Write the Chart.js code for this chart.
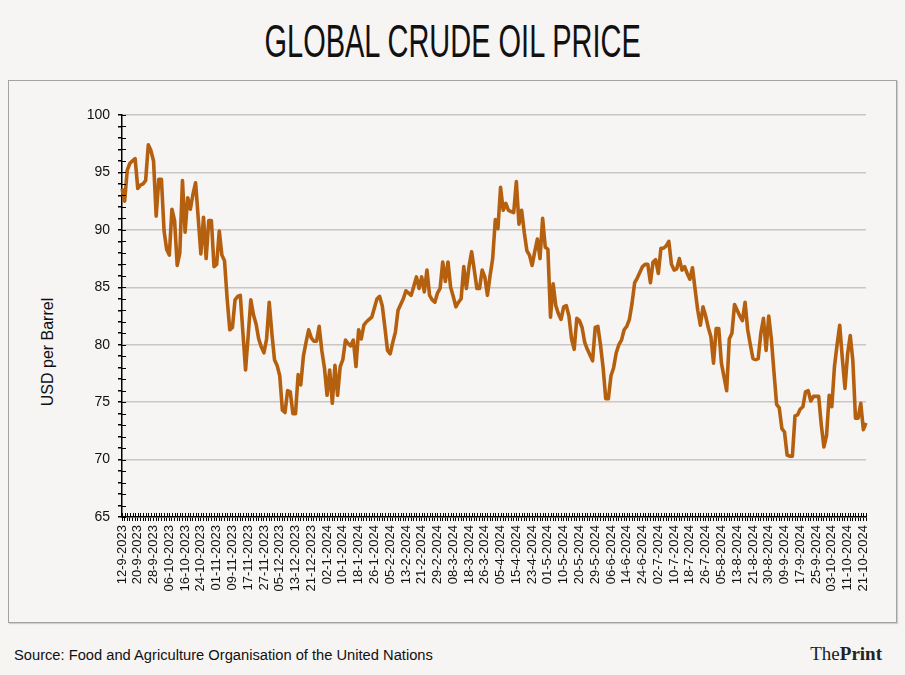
<!DOCTYPE html>
<html>
<head>
<meta charset="utf-8">
<script src="https://cdn.jsdelivr.net/npm/chart.js@4.4.1/dist/chart.umd.min.js"></script>
<style>
  body { margin: 0; background: #f7f4f4; }
  #wrap { position: relative; width: 905px; height: 675px; overflow: hidden; }
  #frame { position: absolute; left: 8px; top: 80px; width: 887px; height: 541px; border: 1px solid #a3a3a3; box-shadow: 1px 1px 1px #cfcfcf; }
  #title { position: absolute; left: 0; top: 14px; width: 905px; text-align: center; font-family: "Liberation Sans", Arial, sans-serif; font-size: 46px; color: #111; }
  #title span { display: inline-block; transform: scaleX(0.63); }
  #ylab { position: absolute; left: 48px; top: 352px; transform: translate(-50%, -50%) rotate(-90deg); white-space: nowrap; font-family: "Liberation Sans", Arial, sans-serif; font-size: 16px; color: #111; }
  #source { position: absolute; left: 14px; top: 647px; font-family: "Liberation Sans", Arial, sans-serif; font-size: 14.7px; color: #111; white-space: nowrap; }
  #logo { position: absolute; right: 23px; top: 643px; font-family: "Liberation Serif", "DejaVu Serif", serif; font-size: 19px; color: #222; }
  canvas { position: absolute; left: 0; top: 0; }
</style>
</head>
<body>
<div id="wrap">
  <div id="frame"></div>
  <div id="title"><span>GLOBAL CRUDE OIL PRICE</span></div>
  <div id="ylab">USD per Barrel</div>
  <div id="source">Source: Food and Agriculture Organisation of the United Nations</div>
  <div id="logo">The<b>Print</b></div>
  <canvas id="oilChart" width="905" height="675"></canvas>
</div>
<script>
// labels shown on the x axis, one every 6 trading days
var tickLabels = ['12-9-2023','20-9-2023','28-9-2023','06-10-2023','16-10-2023','24-10-2023','01-11-2023','09-11-2023',
  '17-11-2023','27-11-2023','05-12-2023','13-12-2023','21-12-2023','02-1-2024','10-1-2024','18-1-2024','26-1-2024',
  '05-2-2024','13-2-2024','21-2-2024','29-2-2024','08-3-2024','18-3-2024','26-3-2024','05-4-2024','15-4-2024',
  '23-4-2024','01-5-2024','10-5-2024','20-5-2024','29-5-2024','06-6-2024','14-6-2024','24-6-2024','02-7-2024',
  '10-7-2024','18-7-2024','26-7-2024','05-8-2024','13-8-2024','21-8-2024','30-8-2024','09-9-2024','17-9-2024',
  '25-9-2024','03-10-2024','11-10-2024','21-10-2024'];

// daily crude price, USD per barrel
var prices = [
  93.6, 92.5, 95.2, 95.8, 96.0, 96.2, 93.6, 93.9, 94.0, 94.3, 97.4, 96.9,
  96.0, 91.2, 94.4, 94.4, 89.9, 88.3, 87.8, 91.8, 90.8, 86.9, 88.0, 94.3,
  89.8, 92.8, 91.8, 93.1, 94.1, 91.0, 87.9, 91.1, 87.5, 90.8, 90.8, 86.8,
  87.0, 89.9, 87.8, 87.3, 84.0, 81.3, 81.5, 83.9, 84.2, 84.3, 81.0, 77.8,
  80.8, 83.9, 82.6, 81.8, 80.5, 79.8, 79.3, 80.5, 83.7, 81.0, 78.7, 78.2,
  77.3, 74.3, 74.1, 76.0, 75.9, 74.0, 74.0, 77.4, 76.5, 79.0, 80.2, 81.3,
  80.6, 80.3, 80.3, 81.6, 79.5, 78.0, 75.6, 77.8, 74.9, 78.2, 75.6, 78.1,
  78.7, 80.4, 80.1, 79.9, 80.4, 78.1, 81.3, 80.5, 81.7, 82.0, 82.2, 82.4,
  83.2, 84.0, 84.2, 83.4, 81.5, 79.5, 79.2, 80.2, 81.1, 83.0, 83.5, 84.0,
  84.7, 84.5, 84.3, 85.1, 85.9, 84.9, 85.9, 84.6, 86.5, 84.3, 83.9, 83.7,
  84.5, 84.9, 87.2, 85.5, 87.2, 85.0, 84.2, 83.3, 83.7, 84.0, 86.8, 84.9,
  86.8, 88.1, 86.5, 84.9, 84.9, 86.5, 85.9, 84.3, 86.0, 87.5, 90.9, 90.1,
  93.7, 91.7, 92.3, 91.7, 91.6, 91.5, 94.2, 90.5, 91.7, 89.8, 88.2, 87.8,
  86.9, 88.1, 89.2, 87.5, 91.0, 88.5, 88.3, 82.4, 85.3, 83.4, 82.7, 82.2,
  83.3, 83.4, 82.5, 80.5, 79.6, 82.3, 82.1, 81.5, 80.2, 79.6, 79.1, 78.6,
  81.5, 81.6, 80.0, 78.0, 75.3, 75.3, 77.3, 78.0, 79.3, 80.0, 80.4, 81.3,
  81.6, 82.2, 83.6, 85.4, 85.8, 86.3, 86.8, 87.0, 87.0, 85.4, 87.2, 87.4,
  86.2, 88.4, 88.4, 88.6, 89.0, 87.0, 86.5, 86.6, 87.5, 86.5, 86.8, 86.2,
  85.7, 86.7, 84.8, 83.0, 81.7, 83.3, 82.5, 81.5, 80.7, 78.4, 81.4, 81.4,
  78.4, 77.2, 76.0, 80.5, 81.0, 83.5, 83.0, 82.5, 82.1, 83.7, 81.3, 80.0,
  78.8, 78.7, 78.8, 81.0, 82.3, 79.5, 82.5, 80.5, 77.6, 74.8, 74.5, 72.7,
  72.4, 70.4, 70.3, 70.3, 73.8, 73.9, 74.4, 74.6, 75.9, 76.0, 75.1, 75.5,
  75.5, 75.5, 73.0, 71.1, 72.1, 75.6, 74.6, 78.1, 80.0, 81.7, 78.8, 76.2,
  79.2, 80.8, 78.6, 73.6, 73.6, 74.9, 72.6, 73.2
];

var yMin = 65, yMax = 100, yLabelStep = 5;
var labelEvery = 6;

var categories = prices.map(function(v, i){
  return i % labelEvery === 0 ? (tickLabels[i / labelEvery] || '') : '';
});

// small tick marks on the inner side of both axes
var crossTicks = {
  id: 'crossTicks',
  afterDraw: function(chart){
    var ctx = chart.ctx, area = chart.chartArea;
    var x = chart.scales.x, y = chart.scales.y;
    ctx.save();
    ctx.strokeStyle = '#000';
    ctx.lineWidth = 1;
    ctx.beginPath();
    for (var i = 0; i < y.ticks.length; i++) {
      var py = Math.round(y.getPixelForTick(i)) + 0.5;
      ctx.moveTo(area.left, py); ctx.lineTo(area.left + 4, py);
    }
    for (var j = 0; j < x.ticks.length; j++) {
      var px = Math.round(x.getPixelForTick(j)) + 0.5;
      ctx.moveTo(px, area.bottom); ctx.lineTo(px, area.bottom - 4);
    }
    ctx.stroke();
    ctx.restore();
  }
};

var oilChart = new Chart(document.getElementById('oilChart'), {
  type: 'line',
  data: {
    labels: categories,
    datasets: [{
      label: 'Crude oil price',
      data: prices,
      borderColor: '#b5600f',
      borderWidth: 3.6,
      pointRadius: 0,
      tension: 0,
      borderJoinStyle: 'round',
      fill: false
    }]
  },
  options: {
    responsive: false,
    animation: false,
    layout: { padding: { left: 0, right: 39, top: 115, bottom: 58 } },
    plugins: { legend: { display: false }, tooltip: { enabled: false } },
    scales: {
      x: {
        type: 'category',
        offset: false,
        afterFit: function(s){ s.height = 100; },
        grid: { drawOnChartArea: false, drawTicks: true, tickLength: 4, color: '#000', tickColor: '#000' },
        border: { color: '#000', width: 1.5 },
        ticks: {
          autoSkip: false,
          minRotation: 90,
          maxRotation: 90,
          padding: 4,
          color: '#111',
          font: { family: 'Liberation Sans, Arial, sans-serif', size: 13 }
        }
      },
      y: {
        min: yMin,
        max: yMax,
        afterFit: function(s){ s.width = 122; },
        grid: {
          color: function(c){ return c.tick && c.tick.value % yLabelStep === 0 ? '#c9c6c6' : 'rgba(0,0,0,0)'; },
          lineWidth: 1.5,
          tickColor: '#000',
          tickLength: 4
        },
        border: { color: '#000', width: 1.5 },
        ticks: {
          stepSize: 1,
          autoSkip: false,
          padding: 8,
          color: '#111',
          font: { family: 'Liberation Sans, Arial, sans-serif', size: 14 },
          callback: function(v){ return v % yLabelStep === 0 ? v : ''; }
        }
      }
    }
  },
  plugins: [crossTicks]
});
</script>
</body>
</html>
